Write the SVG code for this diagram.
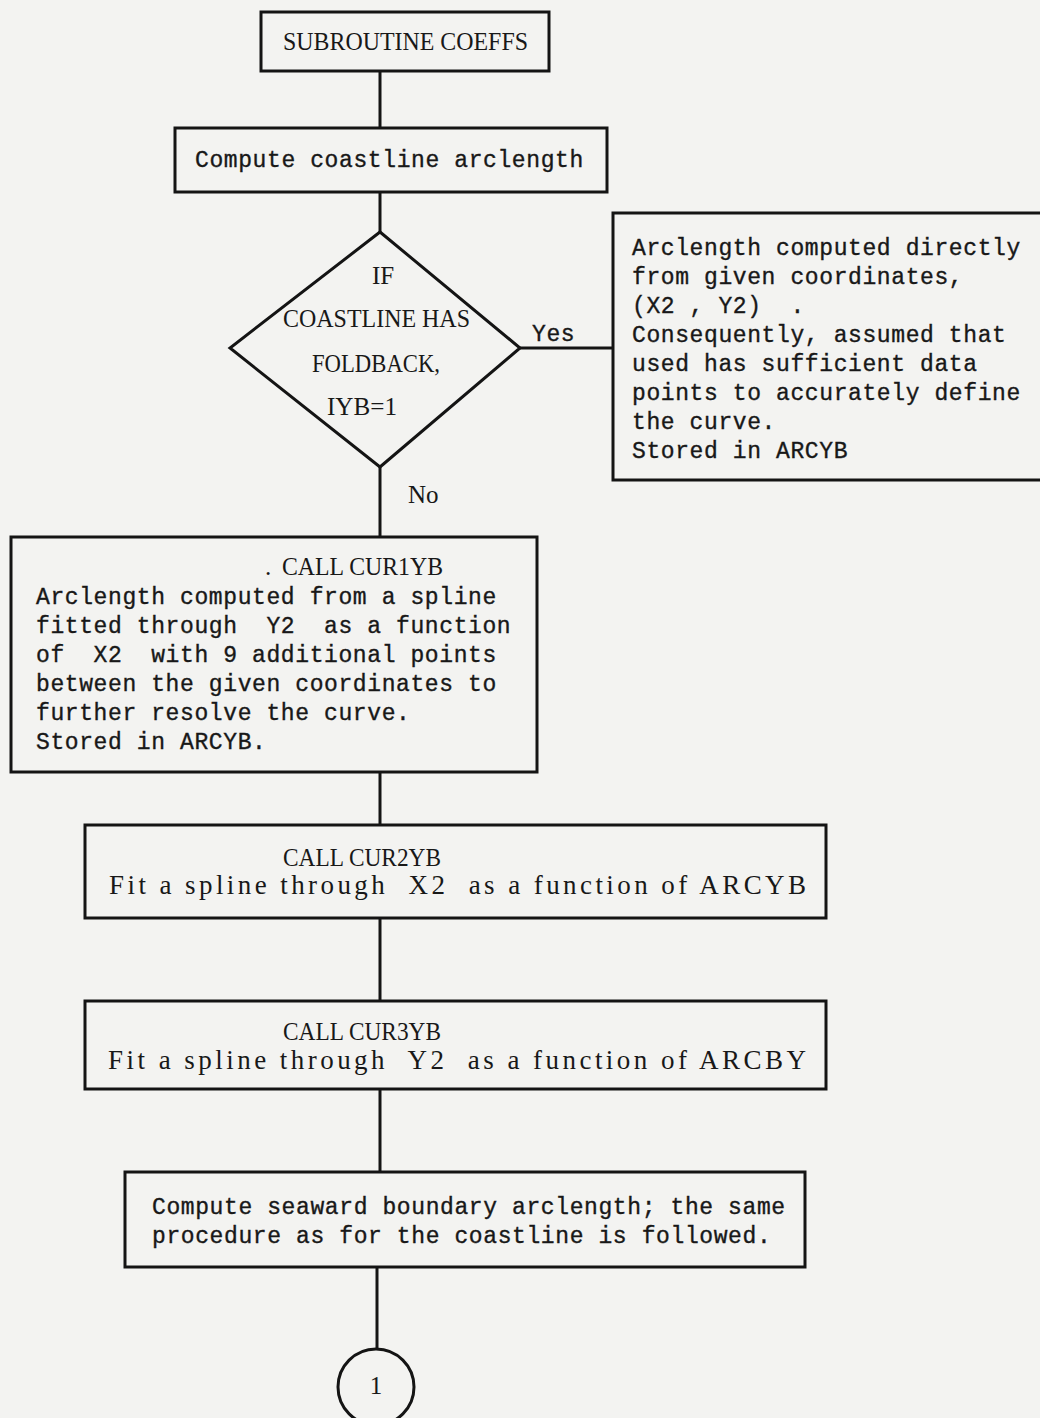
<svg xmlns="http://www.w3.org/2000/svg" width="1040" height="1418" viewBox="0 0 1040 1418">
  <style>
    .bg { fill: #f3f3f1; }
    .box { fill: none; stroke: #141414; stroke-width: 3; }
    .wire { fill: none; stroke: #141414; stroke-width: 3; }
    .mono { font-family: "Liberation Mono", "DejaVu Sans Mono", monospace; font-size: 23px; letter-spacing: 0.6px; fill: #181818; stroke: #181818; stroke-width: 0.35px; }
    .serif { font-family: "Liberation Serif", "DejaVu Serif", serif; font-size: 25px; fill: #181818; }
    .serif.wide { font-size: 27px; }
  </style>

  <rect class="bg" x="0" y="0" width="1040" height="1418"/>

  <!-- connectors -->
  <g id="connectors">
    <line class="wire" x1="380" y1="71" x2="380" y2="128"/>
    <line class="wire" x1="380" y1="192" x2="380" y2="232"/>
    <line class="wire" x1="520" y1="348" x2="613" y2="348"/>
    <line class="wire" x1="380" y1="467" x2="380" y2="537"/>
    <line class="wire" x1="380" y1="772" x2="380" y2="825"/>
    <line class="wire" x1="380" y1="918" x2="380" y2="1001"/>
    <line class="wire" x1="380" y1="1089" x2="380" y2="1172"/>
    <line class="wire" x1="377" y1="1267" x2="377" y2="1349"/>
    <text class="mono" x="532" y="341">Yes</text>
    <text class="serif" x="408" y="503">No</text>
  </g>

  <!-- start -->
  <g id="start">
    <rect class="box" x="261" y="12" width="288" height="59"/>
    <text class="serif" x="283" y="50" textLength="245" lengthAdjust="spacingAndGlyphs">SUBROUTINE COEFFS</text>
  </g>

  <!-- coastline arclength -->
  <g id="coast-arclength">
    <rect class="box" x="175" y="128" width="432" height="64"/>
    <text class="mono" x="195" y="167">Compute coastline arclength</text>
  </g>

  <!-- foldback test -->
  <g id="foldback-test">
    <polygon class="box" points="380,232 520,348 380,467 230,348"/>
    <text class="serif" x="372" y="284">IF</text>
    <text class="serif" x="283" y="327" textLength="187" lengthAdjust="spacingAndGlyphs">COASTLINE HAS</text>
    <text class="serif" x="312" y="372" textLength="128" lengthAdjust="spacingAndGlyphs">FOLDBACK,</text>
    <text class="serif" x="327" y="415" textLength="70" lengthAdjust="spacingAndGlyphs">IYB=1</text>
  </g>

  <!-- direct arclength (foldback case) -->
  <g id="direct-arclength">
    <rect class="box" x="613" y="213" width="440" height="267"/>
    <text class="mono" x="632" y="255">Arclength computed directly</text>
    <text class="mono" x="632" y="284">from given coordinates,</text>
    <text class="mono" x="632" y="313" xml:space="preserve">(X2 , Y2)  .</text>
    <text class="mono" x="632" y="342">Consequently, assumed that</text>
    <text class="mono" x="632" y="371">used has sufficient data</text>
    <text class="mono" x="632" y="400">points to accurately define</text>
    <text class="mono" x="632" y="429">the curve.</text>
    <text class="mono" x="632" y="458">Stored in ARCYB</text>
  </g>

  <!-- CUR1YB -->
  <g id="cur1yb">
    <rect class="box" x="11" y="537" width="526" height="235"/>
    <text class="serif" y="575"><tspan x="265">.</tspan><tspan x="282" textLength="161" lengthAdjust="spacingAndGlyphs">CALL CUR1YB</tspan></text>
    <text class="mono" x="36" y="604">Arclength computed from a spline</text>
    <text class="mono" x="36" y="633" xml:space="preserve">fitted through  Y2  as a function</text>
    <text class="mono" x="36" y="662" xml:space="preserve">of  X2  with 9 additional points</text>
    <text class="mono" x="36" y="691">between the given coordinates to</text>
    <text class="mono" x="36" y="720">further resolve the curve.</text>
    <text class="mono" x="36" y="749">Stored in ARCYB.</text>
  </g>

  <!-- CUR2YB -->
  <g id="cur2yb">
    <rect class="box" x="85" y="825" width="741" height="93"/>
    <text class="serif" x="283" y="866" textLength="158" lengthAdjust="spacingAndGlyphs">CALL CUR2YB</text>
    <text class="serif wide" x="109" y="894" textLength="697" lengthAdjust="spacing" xml:space="preserve">Fit a spline through  X2  as a function of ARCYB</text>
  </g>

  <!-- CUR3YB -->
  <g id="cur3yb">
    <rect class="box" x="85" y="1001" width="741" height="88"/>
    <text class="serif" x="283" y="1040" textLength="158" lengthAdjust="spacingAndGlyphs">CALL CUR3YB</text>
    <text class="serif wide" x="108" y="1069" textLength="698" lengthAdjust="spacing" xml:space="preserve">Fit a spline through  Y2  as a function of ARCBY</text>
  </g>

  <!-- seaward boundary -->
  <g id="seaward-arclength">
    <rect class="box" x="125" y="1172" width="680" height="95"/>
    <text class="mono" x="152" y="1214">Compute seaward boundary arclength; the same</text>
    <text class="mono" x="152" y="1243">procedure as for the coastline is followed.</text>
  </g>

  <!-- off-page connector -->
  <g id="connector-1">
    <circle class="box" cx="376" cy="1387" r="38"/>
    <text class="serif" x="376" y="1394" font-size="22" text-anchor="middle">1</text>
  </g>
</svg>
